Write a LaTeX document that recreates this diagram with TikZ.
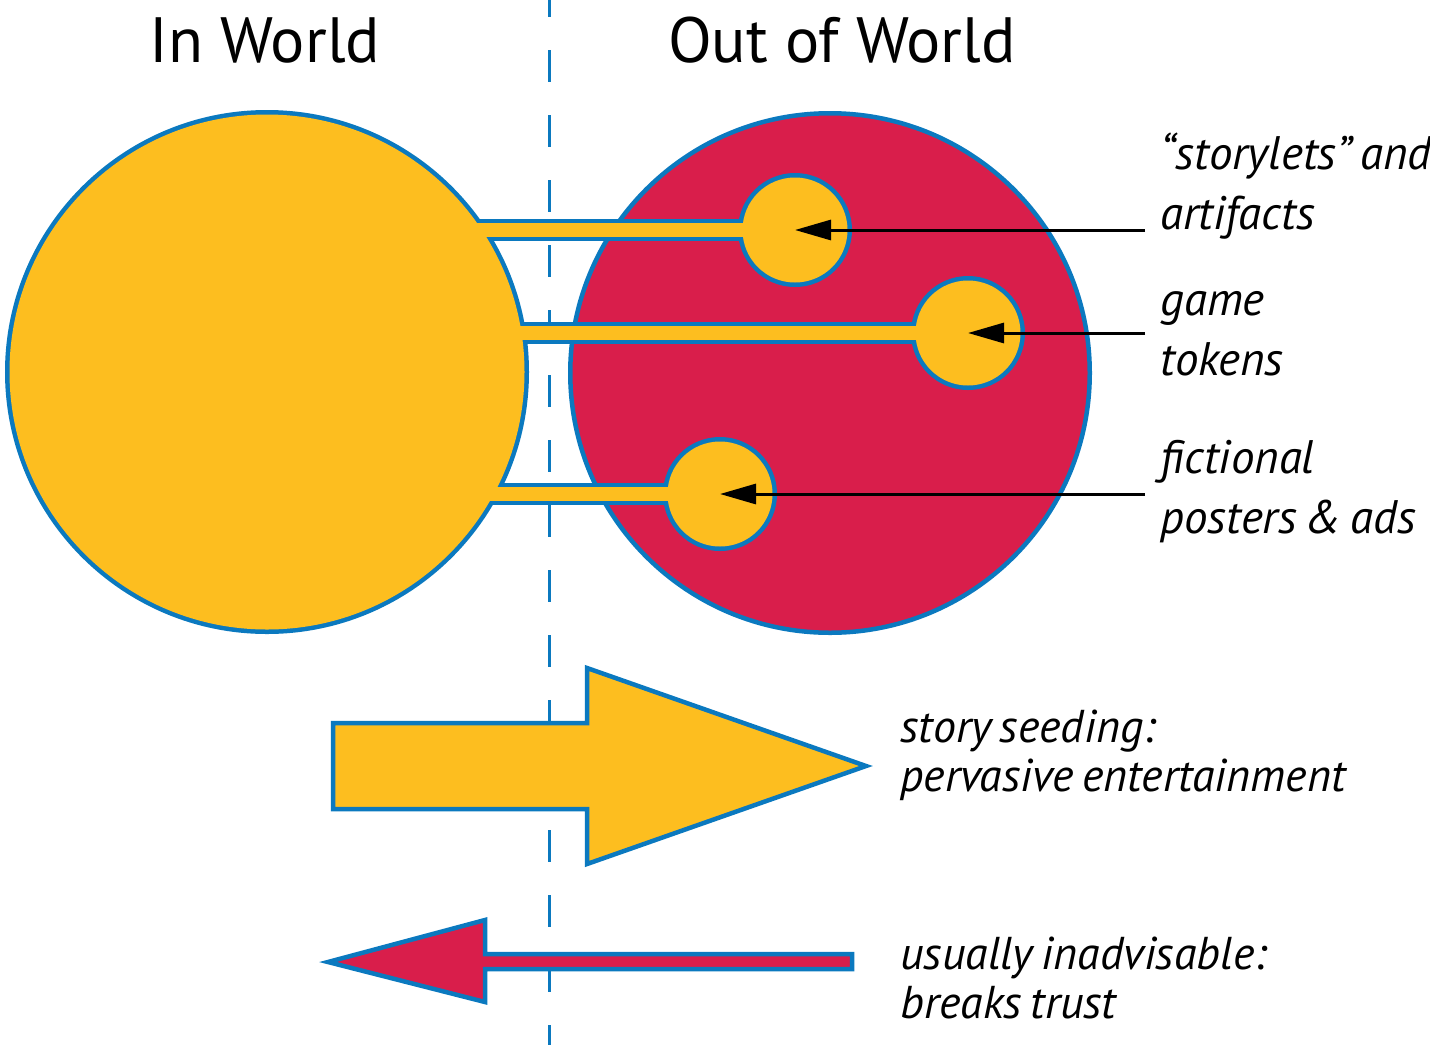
\documentclass[tikz,border=0pt]{standalone}
\usepackage{fontspec}
\setmainfont{PT Sans}
\newfontfamily\notefont{PT Sans}[WordSpace=0.7]
\usetikzlibrary{arrows.meta}
\definecolor{sunyellow}{HTML}{FDBE1F}
\definecolor{crimson}{HTML}{D91E4B}
\definecolor{rimblue}{HTML}{0B79BF}
\begin{document}
\begin{tikzpicture}[x=0.5pt, y=-0.5pt,
  rim/.style = {draw=rimblue, line width=2.25pt},
  halo/.style = {draw=rimblue, line width=4.5pt},
  stalk/.style = {line width=11pt},
  pointer/.style = {line width=1.5pt, -{Triangle[length=18pt, width=10pt]}},
  title/.style = {font=\fontsize{32}{36}\selectfont, inner sep=0pt},
  note/.style = {font=\notefont\fontsize{23.5}{30}\selectfont\itshape, align=left, inner xsep=7.5pt, inner ysep=0pt},
  small/.style = {font=\notefont\fontsize{23}{24.5}\selectfont\itshape, align=left, inner xsep=7.5pt, inner ysep=0pt}] 
\useasboundingbox (0,0) rectangle (1430,1045);

% dashed divider
\draw[rimblue, line width=1.5pt, dash pattern=on 16pt off 16.5pt] (549,-15) -- (549,1045);

\coordinate (inw) at (267,372);
\coordinate (outw) at (830,373);
\coordinate (tok1) at (795,230);
\coordinate (tok2) at (968,333);
\coordinate (tok3) at (720,494);

% out of world
\draw[rim, fill=crimson] (outw) circle[radius=259.75];

% in world, outline first, then fill
\draw[halo, fill=sunyellow] (inw) circle[radius=257.5];
\foreach \t in {tok1,tok2,tok3} {
  \draw[halo] (\t) circle[radius=52.5];
  \draw[stalk, rimblue] (inw |- \t) -- (\t);
}
\fill[sunyellow] (inw) circle[radius=257.5];
\foreach \t in {tok1,tok2,tok3} {
  \fill[sunyellow] (\t) circle[radius=52.5];
  \draw[stalk, sunyellow, line width=7pt] (inw |- \t) -- (\t);
}

% big arrows
\draw[rim, fill=sunyellow] (333,723) -- (587,723) -- (587,668) -- (866,766) -- (587,864) -- (587,809) -- (333,809) -- cycle;
\draw[rim, fill=crimson] (852,954) -- (485,954) -- (485,920) -- (328,962) -- (485,1002) -- (485,969) -- (852,969) -- cycle;

% titles
\node[title, anchor=base] (inlbl) at (265,62) {In World};
\node[title, anchor=base] (outlbl) at (842,62) {Out of World};

% labels (base = last line)
\node[note, anchor=base west] (lbl1) at (1145,229) {“storylets” and\\artifacts};
\node[note, anchor=base west] (lbl2) at (1145,375) {game\\tokens};
\node[note, anchor=base west] (lbl3) at (1145,533) {fictional\\posters \& ads};
\node[small, anchor=base west] (lbl4) at (885,791) {story seeding:\\pervasive entertainment};
\node[small, anchor=base west] (lbl5) at (885,1018) {usually inadvisable:\\breaks trust};

\draw[pointer] (lbl1.west |- tok1) -- (tok1);
\draw[pointer] (lbl2.west |- tok2) -- (tok2);
\draw[pointer] (lbl3.west |- tok3) -- (tok3);

\end{tikzpicture}
\end{document}
